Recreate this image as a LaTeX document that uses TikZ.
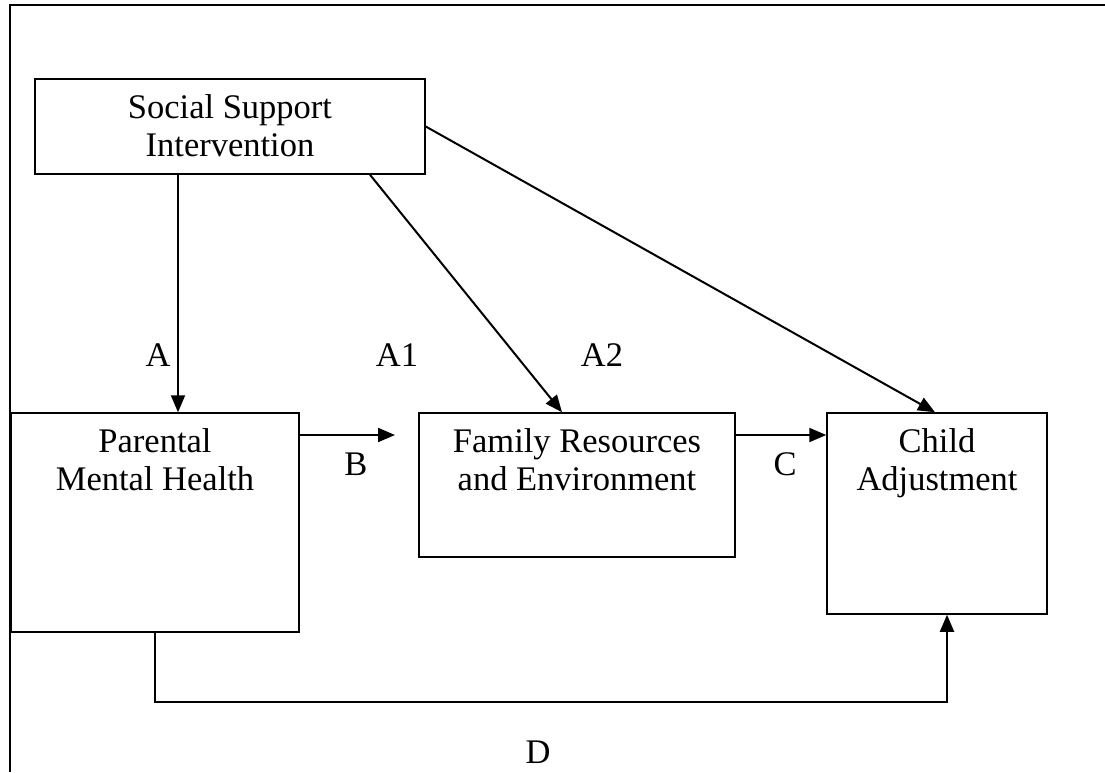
\documentclass[tikz,border=0pt]{standalone}
\usepackage{fontspec}
\setmainfont{Liberation Serif}
\usetikzlibrary{arrows.meta}
\tikzstyle{box_element}=[rectangle,
                           draw=black,
                           line width=1.5pt,
                           inner sep=0pt, ]
\tikzstyle{box_text}=[align=center, inner sep=0pt, anchor=north, yshift=-16pt]
\tikzstyle{path_label}=[inner sep=0pt]
\tikzstyle{path_arrow}=[line width=2pt, -{Triangle[length=17pt, width=14pt]}]

\begin{document}
\begin{tikzpicture}[x=1pt, y=-1pt, font=\fontsize{34.5}{38}\selectfont]
    % ---------------------------------------------------------------------------------------------------------
    %  frame
    \useasboundingbox (0,0) rectangle (1105,772);
    \draw[line width=1.6pt] (10,772) -- (10,5) -- (1105,5);

    % ---------------------------------------------------------------------------------------------------------
    %  boxes
    \node at (230, 126.5) (SSI) [box_element, minimum width=390pt, minimum height=95pt,
        label={[box_text]north:{Social Support\\Intervention}}] {};
    \node at (155, 522.5) (PMH) [box_element, minimum width=288pt, minimum height=219pt,
        label={[box_text]north:{Parental\\Mental Health}}] {};
    \node at (577, 485) (FRE) [box_element, minimum width=316pt, minimum height=144pt,
        label={[box_text]north:{Family Resources\\and Environment}}] {};
    \node at (937, 513.5) (CA) [box_element, minimum width=220pt, minimum height=201pt,
        label={[box_text]north:{Child\\Adjustment}}] {};

    % ---------------------------------------------------------------------------------------------------------
    %  path labels
    \node at (158, 355) (LA) [path_label] {A};
    \node at (397, 355) (LA1) [path_label] {A1};
    \node at (602, 355) (LA2) [path_label] {A2};
    \node at (356, 464) (LB) [path_label] {B};
    \node at (785, 464) (LC) [path_label] {C};
    \node at (538, 752) (LD) [path_label] {D};

    % ---------------------------------------------------------------------------------------------------------
    %  paths
    \coordinate (Bend) at (395, 435);
    \coordinate (Dlow) at (947, 702);
    \draw[path_arrow] ([xshift=-52pt]SSI.south) -- ([xshift=23pt]PMH.north);
    \draw[path_arrow] ([xshift=140pt]SSI.south) -- ([xshift=-15pt]FRE.north);
    \draw[path_arrow] (SSI.east) -- ([xshift=-2pt]CA.north);
    \draw[path_arrow] (PMH.east |- Bend) -- (Bend);
    \draw[path_arrow] (FRE.east |- Bend) -- (CA.west |- Bend);
    \draw[path_arrow] (PMH.south) |- (Dlow) -- (CA.south -| Dlow);
\end{tikzpicture}
\end{document}
